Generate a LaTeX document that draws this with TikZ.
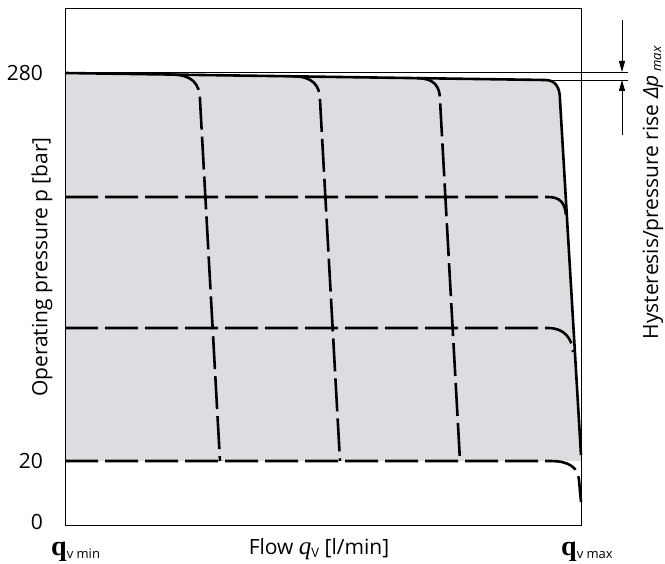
\documentclass[tikz,border=0pt]{standalone}
\usepackage{fontspec}
\setmainfont{Open Sans}
\newfontfamily\serifq{Liberation Serif}
\usepackage{tikz}
\usetikzlibrary{arrows.meta}

\definecolor{areagray}{RGB}{220,221,224}
\tikzset{
	envelope/.style = {line width=2.6pt, line join=round},
	level/.style = {line width=2.6pt, dash pattern=on 33pt off 7pt},
	thinline/.style = {line width=0.9pt},
	dimarrow/.style = {thinline, -{Triangle[length=11pt,width=6pt]}},
	ticklabel/.style = {anchor=east, inner sep=0pt, font=\fontsize{21}{24}\selectfont},
	axislabel/.style = {inner sep=0pt, font=\fontsize{21}{24}\selectfont}
}
\newcommand{\smallsub}[1]{\raisebox{-3pt}{\fontsize{13}{13}\selectfont #1}}

\begin{document}
\begin{tikzpicture}[x=1pt, y=-1pt]
	\useasboundingbox (0,0) rectangle (665,564);

	% working range
	\fill[areagray] (65,73) -- (545,80) .. controls (556,80) and (560,88) .. (560,100)
		-- (581,455) -- (581,461) -- (65,461) -- cycle;

	% pressure settings
	\draw[level] (65,197) -- (548,197) .. controls (560,197) and (565,203) .. (566,215);
	\draw[level] (65,328) -- (548,328) .. controls (564,328) and (572,338) .. (573,352);
	\draw[level] (65,461) -- (550,461) .. controls (570,461) and (578,468) .. (579,480) -- (581,502);

	% flow settings
	\draw[level] (172,74.6) .. controls (192,74.6) and (200,84) .. (200,100) -- (220,461);
	\draw[level] (293,76.3) .. controls (312,76.3) and (320,85) .. (320,100) -- (340,461);
	\draw[level] (417,78.2) .. controls (434,78.2) and (440,86) .. (440,100) -- (460,461);

	\draw[envelope] (65,73) -- (545,80) .. controls (556,80) and (560,88) .. (560,100) -- (581,455);

	% hysteresis
	\draw[thinline] (65,72) -- (628,72);
	\draw[thinline] (545,80) -- (628,80);
	\draw[dimarrow] (622,20) -- (622,72);
	\draw[dimarrow] (622,135) -- (622,80);

	\draw[thinline] (65,8) rectangle (581,525);

	\node[ticklabel] (p280) at (43,73) {280};
	\node[ticklabel] (p20) at (43,461) {20};
	\node[ticklabel] (p0) at (43,522) {0};
	\node[axislabel, rotate=90] (ylabel) at (42,267) {Operating pressure p [bar]};
	\node[axislabel, rotate=90] (hystlabel) at (653,193)
		{Hysteresis/pressure rise \textit{Δp}\,\smallsub{\itshape max}};

	\node[axislabel, anchor=base] (xlabel) at (319,554)
		{Flow {\serifq\itshape\fontsize{25}{25}\selectfont q}\smallsub{V} [l/min]};
	\node[inner sep=0pt, anchor=base west] (qmin) at (51,555)
		{{\serifq\bfseries\fontsize{28}{28}\selectfont q}\smallsub{v min}};
	\node[inner sep=0pt, anchor=base west] (qmax) at (561,555)
		{{\serifq\bfseries\fontsize{28}{28}\selectfont q}\smallsub{v max}};
\end{tikzpicture}
\end{document}
